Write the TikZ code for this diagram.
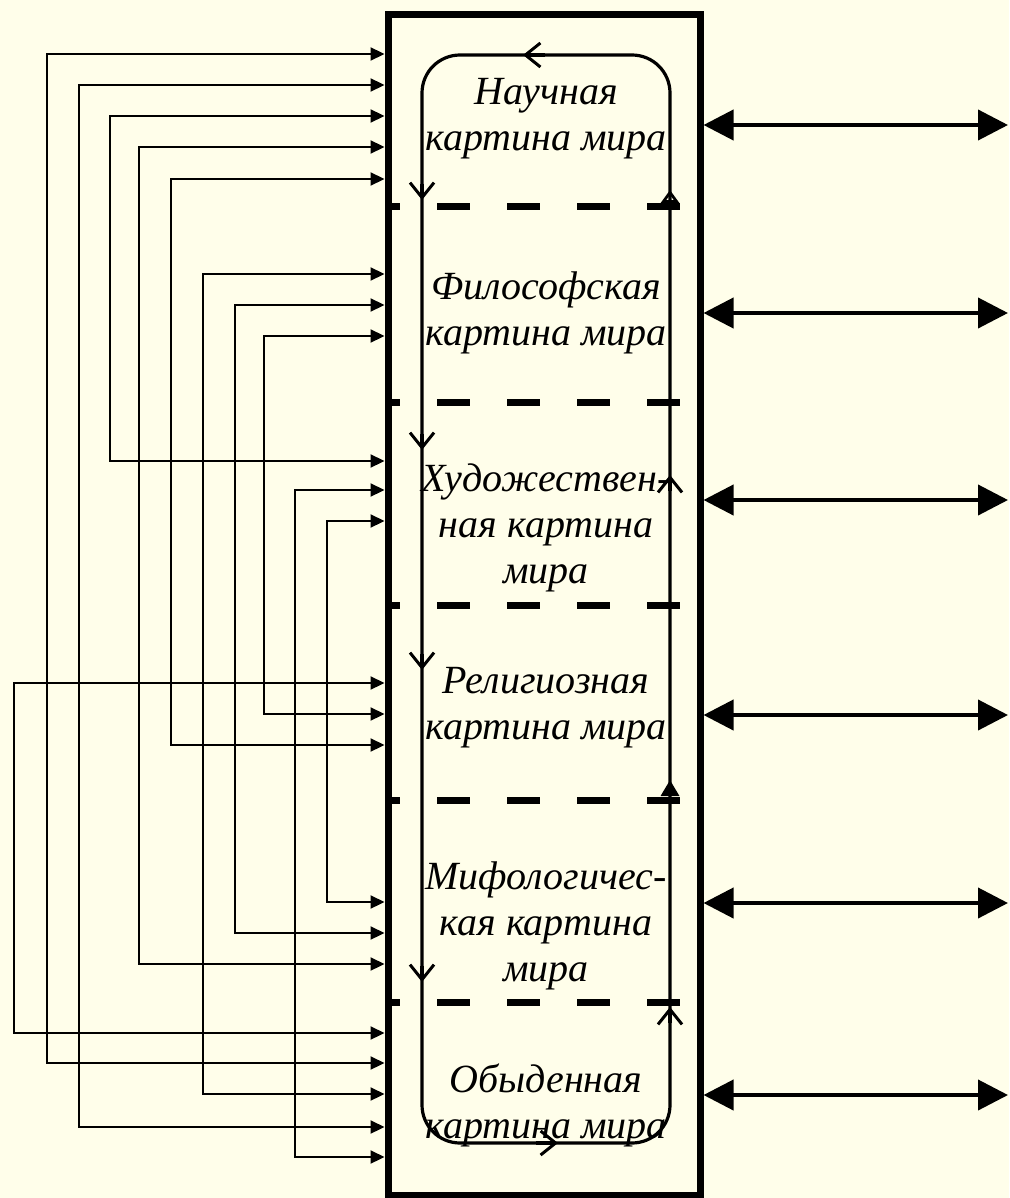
\documentclass[tikz,border=0pt]{standalone}
\usepackage{fontspec}
\setmainfont{Liberation Serif}
\usetikzlibrary{arrows.meta}
\definecolor{paper}{RGB}{255,254,234}
\begin{document}
\begin{tikzpicture}[x=1pt,y=-1pt,
  link/.style={line width=2.2pt,{Triangle[length=14pt,width=13pt]}-{Triangle[length=14pt,width=13pt]},
    shorten <=3.5pt,shorten >=3.5pt},
  both/.style={line width=4pt,{Triangle[length=30pt,width=30pt]}-{Triangle[length=30pt,width=30pt]}},
  loopline/.style={line width=3.2pt},
  barb/.style={loopline,-{Straight Barb[length=15pt,width=24pt,line width=3pt]}},
  sep/.style={line width=7pt,dash pattern=on 33pt off 37pt,dash phase=21pt},
  lab/.style={font=\itshape\fontsize{40}{46}\selectfont,align=center,inner sep=0pt}]

% paper and page size
\fill[paper] (0,0) rectangle (1009,1198);
\useasboundingbox (0,0) rectangle (1009,1198);

% outer frame
\node[minimum width=312pt,minimum height=1180pt,inner sep=0pt,outer sep=0pt] (box) at (544,605) {};

% section separators
\foreach \y in {207,402,605,800,1002}
  \draw[sep] (388,\y) -- (680,\y);

% circulation loop
\node[draw,loopline,rounded corners=38pt,minimum width=248pt,minimum height=1088pt,inner sep=0pt,outer sep=0pt] (cycle) at (546,599) {};
\foreach \y in {200,450,670,982}
  \draw[barb] (422,\y-16) -- (422,\y);
\foreach \y in {475,1007}
  \draw[barb] (670,\y+16) -- (670,\y);
\draw[loopline,-{Triangle[open,length=13pt,width=18pt,line width=2.8pt]}] (670,206) -- (670,190);
\draw[loopline,-{Triangle[length=16pt,width=18pt]}] (670,796) -- (670,780);
\draw[barb] (545,55) -- (523,55);
\draw[barb] (536,1143) -- (558,1143);

% section titles
\node[lab] (t1) at (546,119) {Научная\\картина мира};
\node[lab] (t2) at (546,313) {Философская\\картина мира};
\node[lab] (t3) at (546,528) {Художествен-\\ная картина\\мира};
\node[lab] (t4) at (546,708) {Религиозная\\картина мира};
\node[lab] (t5) at (546,926) {Мифологичес-\\кая картина\\мира};
\node[lab] (t6) at (546,1105) {Обыденная\\картина мира};

% feedback links on the left
\foreach \x/\a/\b [count=\i] in {47/54/1063, 79/85/1127, 110/116/461, 139/147/964,
    171/179/745, 203/274/1094, 235/305/933, 264/336/714, 295/490/1157,
    327/521/902, 14/683/1033} {
  \coordinate (src\i) at (box.west |- 0,\a);
  \coordinate (dst\i) at (box.west |- 0,\b);
  \draw[link] (src\i) -- (\x,\a) |- (dst\i);
}

% exchange arrows on the right
\foreach \y [count=\i] in {125,313,500,715,903,1095} {
  \coordinate (out\i) at (box.east |- 0,\y);
  \coordinate (far\i) at (1008,\y);
  \draw[both,shorten <=3.5pt] (out\i) -- (far\i);
}

% frame drawn last
\draw[line width=7pt] (box.north west) rectangle (box.south east);
\end{tikzpicture}
\end{document}
